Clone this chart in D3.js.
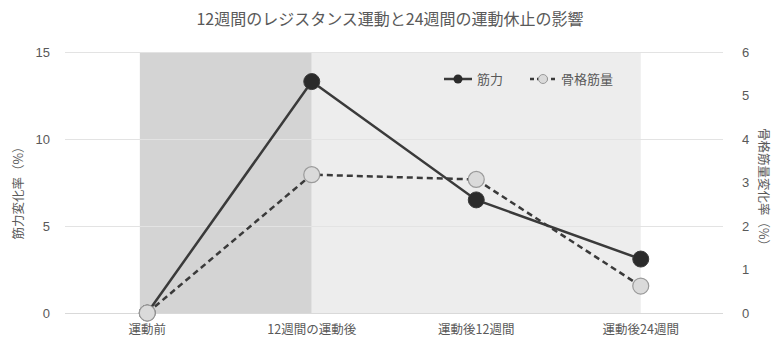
<!DOCTYPE html>
<html>
<head>
<meta charset="utf-8">
<script src="https://cdn.jsdelivr.net/npm/d3@7"></script>
<style>
  html, body { margin: 0; padding: 0; background: #fff; }
  svg { display: block; }
  text { font-family: "Noto Sans CJK JP", "Noto Sans", sans-serif; fill: #595959; }
</style>
</head>
<body>
<svg id="chart" width="775" height="338"></svg>
<script>
// Time points
const categories = ["運動前", "12週間の運動後", "運動後12週間", "運動後24週間"];
// Muscle strength change rate (%) – left axis
const strength = [0, 13.3, 6.5, 3.1];
// Skeletal muscle mass change rate (%) – right axis
const muscleMass = [0, 3.18, 3.07, 0.62];
// Axis ticks
const leftTicks = [0, 5, 10, 15];
const rightTicks = [0, 1, 2, 3, 4, 5, 6];
// Shaded phases: training (dark) and detraining (light), by category index
const phases = [
  { from: 0, to: 1, pad: 0.045, fill: "#d4d4d4" },
  { from: 1, to: 3, pad: 0, fill: "#ededed" }
];
const seriesNames = ["筋力", "骨格筋量"];

const svg = d3.select("#chart");
const W = 775, H = 338;
const margin = { left: 65, right: 52, top: 52, bottom: 25 };

const x = d3.scalePoint().domain(categories).range([margin.left, W - margin.right]).padding(0.5);
const step = x.step();
const yL = d3.scaleLinear().domain([0, 15]).range([313, 52]);
const yR = d3.scaleLinear().domain([0, 6]).range([313, 52]);

// Phase shading
svg.append("g").selectAll("rect").data(phases).join("rect")
  .attr("x", d => x(categories[d.from]) - d.pad * step)
  .attr("y", yL(15))
  .attr("width", d => x(categories[d.to]) - x(categories[d.from]) + d.pad * step)
  .attr("height", yL(0) - yL(15))
  .attr("fill", d => d.fill);

// Gridlines
svg.append("g").selectAll("line").data(leftTicks).join("line")
  .attr("x1", margin.left).attr("x2", W - margin.right)
  .attr("y1", d => yL(d) + 0.5).attr("y2", d => yL(d) + 0.5)
  .attr("stroke", d => d === 0 ? "#d9d9d9" : "#e3e3e3").attr("stroke-width", 1);

// Left axis
const axL = svg.append("g").attr("transform", `translate(${margin.left - 15},0)`)
  .call(d3.axisLeft(yL).tickValues(leftTicks).tickSize(0).tickPadding(0).tickFormat(d3.format("d")));
axL.select(".domain").remove();
axL.selectAll("text").attr("font-size", 13).style("font-family", "'Liberation Sans', 'DejaVu Sans', sans-serif").attr("fill", "#595959");

// Right axis
const axR = svg.append("g").attr("transform", `translate(${W - margin.right + 19},0)`)
  .call(d3.axisRight(yR).tickValues(rightTicks).tickSize(0).tickPadding(0).tickFormat(d3.format("d")));
axR.select(".domain").remove();
axR.selectAll("text").attr("font-size", 13).style("font-family", "'Liberation Sans', 'DejaVu Sans', sans-serif").attr("fill", "#595959");

// Category axis
svg.append("g").selectAll("text").data(categories).join("text")
  .attr("x", d => x(d)).attr("y", 334)
  .attr("text-anchor", "middle").attr("font-size", 12.5)
  .text(d => d);

// Title
svg.append("text").attr("x", 390).attr("y", 25).attr("text-anchor", "middle")
  .attr("font-size", 16).text("12週間のレジスタンス運動と24週間の運動休止の影響");

// Axis titles
svg.append("text").attr("transform", "translate(23,190) rotate(-90)")
  .attr("text-anchor", "middle").attr("font-size", 12.5).text("筋力変化率（%）");
svg.append("text").attr("transform", "translate(759,190) rotate(90)")
  .attr("text-anchor", "middle").attr("font-size", 12.5).text("骨格筋量変化率（%）");

// Strength series (solid)
const lineL = d3.line().x((d, i) => x(categories[i])).y(d => yL(d));
svg.append("path").datum(strength).attr("d", lineL)
  .attr("fill", "none").attr("stroke", "#3a3a3a").attr("stroke-width", 2.5);
svg.append("g").selectAll("circle").data(strength).join("circle")
  .attr("cx", (d, i) => x(categories[i])).attr("cy", d => yL(d)).attr("r", 8)
  .attr("fill", "#2b2b2b").attr("stroke", "#3a3a3a").attr("stroke-width", 1);

// Skeletal muscle mass series (dashed)
const lineR = d3.line().x((d, i) => x(categories[i])).y(d => yR(d));
svg.append("path").datum(muscleMass).attr("d", lineR)
  .attr("fill", "none").attr("stroke", "#3a3a3a").attr("stroke-width", 2.5)
  .attr("stroke-dasharray", "6,4");
svg.append("g").selectAll("circle").data(muscleMass).join("circle")
  .attr("cx", (d, i) => x(categories[i])).attr("cy", d => yR(d)).attr("r", 8)
  .attr("fill", "#dadada").attr("stroke", "#9a9a9a").attr("stroke-width", 1.2);

// Legend
const lg = svg.append("g");
lg.append("line").attr("x1", 444).attr("x2", 472).attr("y1", 79).attr("y2", 79)
  .attr("stroke", "#3a3a3a").attr("stroke-width", 2.5);
lg.append("circle").attr("cx", 458).attr("cy", 79).attr("r", 4.5).attr("fill", "#2b2b2b");
lg.append("text").attr("x", 477).attr("y", 84).attr("font-size", 13).text(seriesNames[0]);
lg.append("line").attr("x1", 530).attr("x2", 556).attr("y1", 79).attr("y2", 79)
  .attr("stroke", "#3a3a3a").attr("stroke-width", 2.5).attr("stroke-dasharray", "4,3");
lg.append("circle").attr("cx", 543).attr("cy", 79).attr("r", 4.5)
  .attr("fill", "#dadada").attr("stroke", "#9a9a9a").attr("stroke-width", 1);
lg.append("text").attr("x", 561).attr("y", 84).attr("font-size", 13).text(seriesNames[1]);
</script>
</body>
</html>
